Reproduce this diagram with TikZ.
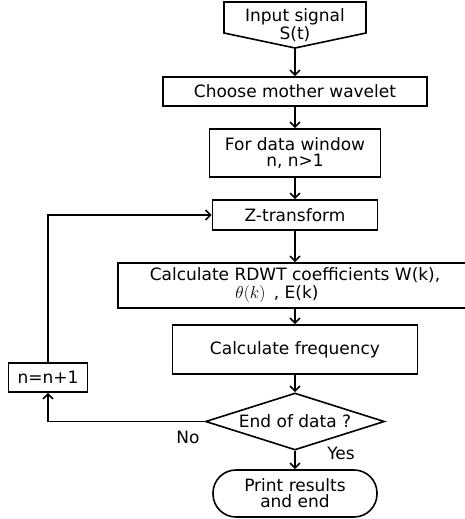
\documentclass[tikz,border=0pt]{standalone}
\usepackage{fontspec}
\setmainfont{DejaVu Sans}
\usetikzlibrary{graphs, arrows.meta, shapes.geometric}
\def\Signal{Input signal\\S(t)}
\def\Mother{Choose mother wavelet}
\def\Window{For data window\\n, n>1}
\def\Ztrans{Z-transform}
\def\Rdwt{Calculate RDWT coefficients W(k),\\[2pt]$\theta(k)$\enspace, E(k)\hspace*{36pt}}
\def\Freq{Calculate frequency}
\def\Eod{End of data ?}
\def\Stop{Print results\\and end}
\def\Incr{n=n+1}

\begin{document}
\begin{tikzpicture}[x=1pt, y=-1pt, line width=1.6pt,
    >={Straight Barb[length=5pt, width=10pt]},
    font=\fontsize{17}{16}\selectfont,
    box/.style={draw, rectangle, align=center, inner sep=2pt},
    decision/.style={draw, diamond, aspect=3.1, inner sep=0pt,
        minimum width=179pt, minimum height=57pt},
    terminal/.style={draw, rectangle, rounded corners=23pt, align=center,
        minimum width=164pt, minimum height=47pt}]
    \useasboundingbox (0,0) rectangle (465,519);

    \node [align=center] (signal) at (295,25) {\Signal};
    \coordinate (sigtip) at (295,48);
    \draw (224,2) -- (366,2) -- (366,33) -- (sigtip) -- (224,33) -- cycle;

    \node [box, minimum width=264pt, minimum height=29pt] (mother) at (295,91.5) {\Mother};
    \node [box, minimum width=171pt, minimum height=48pt] (window) at (295,153) {\Window};
    \node [box, minimum width=165pt, minimum height=30pt] (ztrans) at (295,215) {\Ztrans};
    \node [box, minimum width=354pt, minimum height=45pt] (rdwt) at (295,285.5) {\Rdwt};
    \node [box, minimum width=245pt, minimum height=49pt] (freq) at (295,349.5) {\Freq};
    \node [decision] (eod) at (295,421.5) {\Eod};
    \node [terminal] (stop) at (295,493.5) {\Stop};
    \node [box, minimum width=79pt, minimum height=29pt] (incr) at (48,377.5) {\Incr};

    \node (no) at (188,437) {No};
    \node (yes) at (341,453) {Yes};

    \graph [use existing nodes] {
        sigtip -> mother -> window -> ztrans -> rdwt -> freq -> eod -> stop;
    };
    \draw [->] (eod.west) -| (incr);
    \draw [->] (incr) |- (ztrans);
\end{tikzpicture}
\end{document}
